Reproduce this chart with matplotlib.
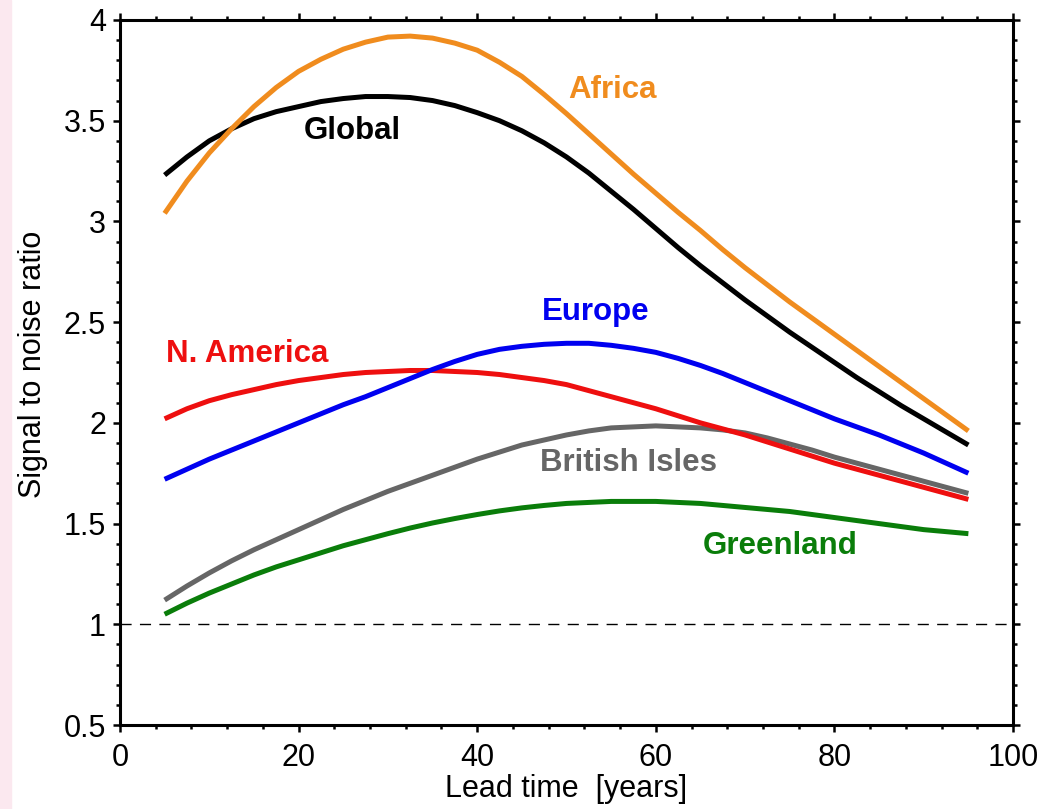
import matplotlib
matplotlib.use("Agg")
import matplotlib.pyplot as plt
from matplotlib.ticker import MultipleLocator
from matplotlib.patches import Rectangle

plt.rcParams['font.family'] = ['Liberation Sans', 'DejaVu Sans']

# lead time in years
lead = [5, 7.5, 10, 12.5, 15, 17.5, 20, 22.5, 25, 27.5, 30, 32.5, 35, 37.5, 40, 42.5, 45,
        47.5, 50, 52.5, 55, 57.5, 60, 62.5, 65, 67.5, 70, 72.5, 75, 77.5, 80, 82.5, 85,
        87.5, 90, 92.5, 95]

# signal to noise ratio per region
global_snr = [3.23, 3.32, 3.40, 3.46, 3.51, 3.545, 3.57, 3.595, 3.61, 3.62, 3.62, 3.615,
              3.60, 3.575, 3.54, 3.50, 3.45, 3.39, 3.32, 3.24, 3.15, 3.06, 2.965, 2.87,
              2.78, 2.695, 2.61, 2.53, 2.45, 2.375, 2.30, 2.225, 2.155, 2.085, 2.02, 1.955,
              1.89]
africa = [3.04, 3.20, 3.34, 3.46, 3.57, 3.665, 3.745, 3.805, 3.855, 3.89, 3.915, 3.92,
          3.91, 3.885, 3.85, 3.79, 3.72, 3.63, 3.535, 3.435, 3.335, 3.235, 3.14, 3.045,
          2.955, 2.86, 2.77, 2.685, 2.60, 2.52, 2.44, 2.36, 2.28, 2.20, 2.12, 2.04, 1.96]
europe = [1.72, 1.77, 1.82, 1.865, 1.91, 1.955, 2.00, 2.045, 2.09, 2.13, 2.175, 2.22,
          2.265, 2.305, 2.34, 2.365, 2.38, 2.39, 2.395, 2.395, 2.385, 2.37, 2.35, 2.32,
          2.285, 2.245, 2.20, 2.155, 2.11, 2.065, 2.02, 1.98, 1.94, 1.895, 1.85, 1.80, 1.75]
n_america = [2.02, 2.07, 2.11, 2.14, 2.165, 2.19, 2.21, 2.225, 2.24, 2.25, 2.255, 2.26,
             2.26, 2.255, 2.25, 2.24, 2.225, 2.21, 2.19, 2.16, 2.13, 2.10, 2.07, 2.035,
             2.00, 1.97, 1.94, 1.905, 1.87, 1.835, 1.80, 1.77, 1.74, 1.71, 1.68, 1.65, 1.62]
brit_isles = [1.12, 1.19, 1.255, 1.315, 1.37, 1.42, 1.47, 1.52, 1.57, 1.615, 1.66, 1.70,
              1.74, 1.78, 1.82, 1.855, 1.89, 1.915, 1.94, 1.96, 1.975, 1.98, 1.985, 1.98,
              1.975, 1.965, 1.95, 1.925, 1.895, 1.865, 1.83, 1.80, 1.77, 1.74, 1.71, 1.68,
              1.65]
greenland = [1.05, 1.105, 1.155, 1.20, 1.245, 1.285, 1.32, 1.355, 1.39, 1.42, 1.45, 1.478,
             1.503, 1.525, 1.545, 1.563, 1.578, 1.59, 1.60, 1.605, 1.61, 1.61, 1.61, 1.605,
             1.60, 1.59, 1.58, 1.57, 1.56, 1.545, 1.53, 1.515, 1.50, 1.485, 1.47, 1.46, 1.45]

names = ["Global", "Africa", "Europe", "N. America", "British Isles", "Greenland"]
series = [global_snr, africa, europe, n_america, brit_isles, greenland]
colors = ["black", "#f08c1e", "#0000f0", "#ee0f0f", "#666666", "#0a7d0a"]
# label anchor (x, y) in data units
label_pos = [(26, 3.45), (55.2, 3.65), (53.3, 2.55), (14.3, 2.34), (56.9, 1.80), (73.9, 1.39)]

fig = plt.figure(figsize=(10.57, 8.09), dpi=100)
fig.patches.append(Rectangle((0, 0), 0.01, 1, transform=fig.transFigure,
                             color="#fbe8ef", zorder=0))
ax = fig.add_axes([0.1135, 0.1038, 0.8449, 0.8715])

ax.axhline(1.0, color="black", lw=1, dashes=(8, 6))

# draw order: grey/green first, black/orange on top
for i in [5, 4, 3, 2, 0, 1]:
    ax.plot(lead, series[i], color=colors[i], lw=3.6, solid_capstyle="butt")
for name, c, (lx, ly) in zip(names, colors, label_pos):
    ax.text(lx, ly, name, color=c, fontsize=22.5, fontweight="bold", ha="center", va="center")

ax.set_xlim(0, 100)
ax.set_ylim(0.5, 4)
ax.xaxis.set_major_locator(MultipleLocator(20))
ax.xaxis.set_minor_locator(MultipleLocator(4))
ax.yaxis.set_minor_locator(MultipleLocator(0.1))
ax.set_yticks([0.5, 1, 1.5, 2, 2.5, 3, 3.5, 4])
ax.set_yticklabels(["0.5", "1", "1.5", "2", "2.5", "3", "3.5", "4"])

for sp in ax.spines.values():
    sp.set_linewidth(2.2)
ax.tick_params(which="both", direction="out", top=True, right=True, width=1.8,
               labelsize=22)
ax.tick_params(which="major", length=5)
ax.tick_params(which="minor", length=3)
ax.tick_params(axis="x", pad=8)
ax.tick_params(axis="y", pad=5)

ax.set_xlabel("Lead time  [years]", fontsize=22, labelpad=1)
ax.set_ylabel("Signal to noise ratio", fontsize=22)
ax.yaxis.set_label_coords(-0.081, 0.511)

fig.savefig("out.png", dpi=100)
